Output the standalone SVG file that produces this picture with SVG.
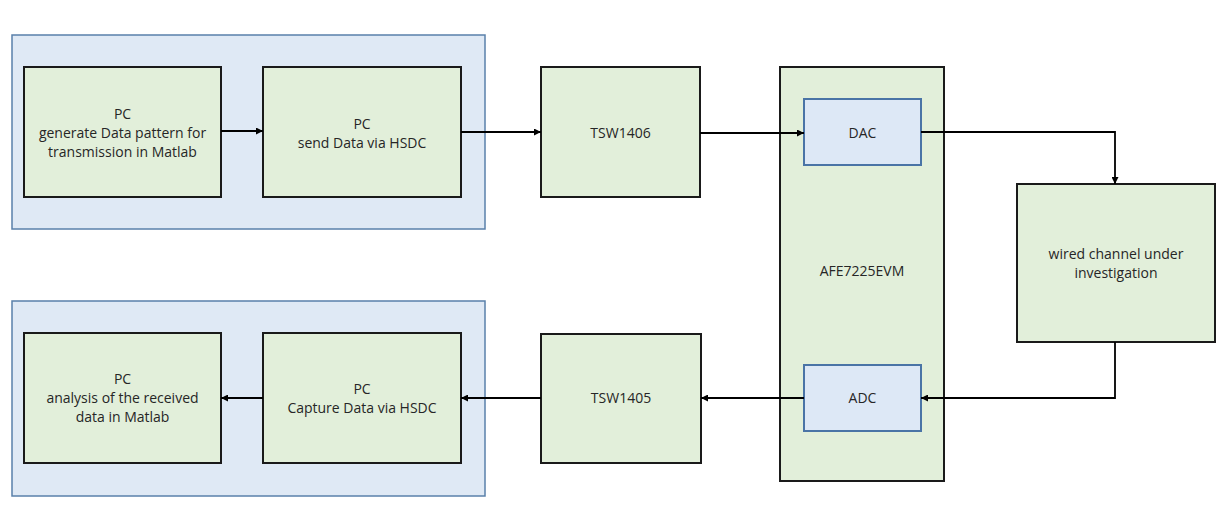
<svg xmlns="http://www.w3.org/2000/svg" width="1230" height="528" viewBox="0 0 1230 528">
<style>
.grp{fill:#dfe9f5;stroke:#5a80aa;stroke-width:1.5}
.box{fill:#e2efda;stroke:#1a1a1a;stroke-width:2}
.sub{fill:#dde8f6;stroke:#4a74a6;stroke-width:2}
.t{font-family:"Open Sans","Liberation Sans",sans-serif;font-size:14px;fill:#262626;text-anchor:middle}
.c{fill:none;stroke:#000;stroke-width:1.8}
</style>
<defs>
<marker id="ah" viewBox="0 0 10 10" refX="10" refY="5" markerWidth="7" markerHeight="7" markerUnits="userSpaceOnUse" orient="auto">
<path d="M0,0 L10,5 L0,10 z" fill="#000"/>
</marker>
</defs>
<rect width="1230" height="528" fill="#fff"/>
<g id="grp-top"><rect class="grp" x="12" y="35" width="473" height="194"/></g>
<g id="grp-bottom"><rect class="grp" x="12" y="301" width="473" height="195"/></g>
<g id="pc-generate"><rect class="box" x="24" y="67" width="197" height="130"/>
<text class="t" x="122.5" y="119">PC</text><text class="t" x="122.5" y="138">generate Data pattern for</text><text class="t" x="122.5" y="157">transmission in Matlab</text></g>
<g id="pc-send"><rect class="box" x="263" y="67" width="198" height="130"/>
<text class="t" x="362" y="129">PC</text><text class="t" x="362" y="148">send Data via HSDC</text></g>
<g id="tsw1406"><rect class="box" x="541" y="67" width="159" height="130"/>
<text class="t" x="620.5" y="138">TSW1406</text></g>
<g id="afe"><rect class="box" x="780" y="67" width="164" height="414"/>
<text class="t" x="862" y="276">AFE7225EVM</text></g>
<g id="dac"><rect class="sub" x="804" y="99" width="117" height="66"/>
<text class="t" x="862.5" y="138">DAC</text></g>
<g id="adc"><rect class="sub" x="804" y="365" width="117" height="66"/>
<text class="t" x="862.5" y="403">ADC</text></g>
<g id="channel"><rect class="box" x="1017" y="184" width="198" height="158"/>
<text class="t" x="1116" y="259">wired channel under</text><text class="t" x="1116" y="278">investigation</text></g>
<g id="tsw1405"><rect class="box" x="541" y="334" width="160" height="129"/>
<text class="t" x="621" y="403">TSW1405</text></g>
<g id="pc-capture"><rect class="box" x="263" y="333" width="198" height="130"/>
<text class="t" x="362" y="394">PC</text><text class="t" x="362" y="413">Capture Data via HSDC</text></g>
<g id="pc-analysis"><rect class="box" x="24" y="333" width="197" height="130"/>
<text class="t" x="122.5" y="384">PC</text><text class="t" x="122.5" y="403">analysis of the received</text><text class="t" x="122.5" y="422">data in Matlab</text></g>
<g id="connectors">
<path class="c" d="M221,131 H263" marker-end="url(#ah)"/>
<path class="c" d="M461,132 H541" marker-end="url(#ah)"/>
<path class="c" d="M700,133 H804" marker-end="url(#ah)"/>
<path class="c" d="M921,132 H1115 V184" marker-end="url(#ah)"/>
<path class="c" d="M1115,342 V398 H921" marker-end="url(#ah)"/>
<path class="c" d="M804,398 H701" marker-end="url(#ah)"/>
<path class="c" d="M541,398 H461" marker-end="url(#ah)"/>
<path class="c" d="M263,398 H221" marker-end="url(#ah)"/>
</g>
</svg>
